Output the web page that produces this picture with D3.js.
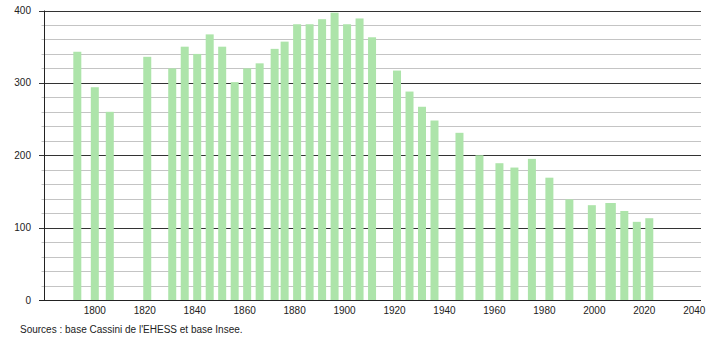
<!DOCTYPE html>
<html>
<head>
<meta charset="utf-8">
<script src="https://cdn.jsdelivr.net/npm/d3@7"></script>
<style>
  body { margin: 0; background: #fff; }
  text { font-family: "Liberation Sans", Arial, sans-serif; font-size: 10px; fill: #222; }
</style>
</head>
<body>
<div id="chart"></div>
<script>
// census years and population
const years = [1793, 1800, 1806, 1821, 1831, 1836, 1841, 1846, 1851, 1856, 1861, 1866, 1872, 1876,
  1881, 1886, 1891, 1896, 1901, 1906, 1911, 1921, 1926, 1931, 1936, 1946, 1954, 1962, 1968, 1975,
  1982, 1990, 1999, 2006, 2007, 2012, 2017, 2022];
const population = [343, 294, 260, 336, 320, 350, 340, 367, 350, 301, 320, 327, 347, 357,
  381, 381, 388, 397, 381, 389, 363, 317, 288, 267, 248, 231, 200, 189, 183, 195,
  169, 139, 131, 134, 134, 123, 108, 113];
const xTicks = [1800, 1820, 1840, 1860, 1880, 1900, 1920, 1940, 1960, 1980, 2000, 2020, 2040];
const yMajor = [0, 100, 200, 300, 400];
const yMinor = d3.range(20, 400, 20).filter(v => v % 100 !== 0);
const source = "Sources : base Cassini de l'EHESS et base Insee.";

const width = 710, height = 340;
const plotLeft = 44, plotRight = 701, plotTop = 10.5, plotBottom = 300;

const svg = d3.select("#chart").append("svg")
  .attr("width", width)
  .attr("height", height);

const x = d3.scaleLinear().domain([1800, 2020]).range([94.8, 644.3]);
const y = d3.scaleLinear().domain([0, 400]).range([plotBottom, plotTop]);

// minor grid
svg.append("g").selectAll("line").data(yMinor).join("line")
  .attr("x1", plotLeft - 2.5).attr("x2", plotRight)
  .attr("y1", d => Math.round(y(d)) + 0.5).attr("y2", d => Math.round(y(d)) + 0.5)
  .attr("stroke", "#c4c4c4").attr("stroke-width", 1);

// major grid
svg.append("g").selectAll("line").data(yMajor).join("line")
  .attr("x1", plotLeft - 5).attr("x2", plotRight)
  .attr("y1", d => Math.round(y(d)) + 0.5).attr("y2", d => Math.round(y(d)) + 0.5)
  .attr("stroke", "#333").attr("stroke-width", 1);

// bars
const barW = 8;
svg.append("g").selectAll("rect").data(years).join("rect")
  .attr("x", d => x(d) - barW / 2)
  .attr("width", barW)
  .attr("y", (d, i) => y(population[i]))
  .attr("height", (d, i) => plotBottom - y(population[i]))
  .attr("fill", "#ade4aa");

// axis lines
svg.append("line")
  .attr("x1", plotLeft + 0.5).attr("x2", plotLeft + 0.5)
  .attr("y1", plotTop).attr("y2", plotBottom + 0.5)
  .attr("stroke", "#222");
svg.append("line")
  .attr("x1", plotLeft - 5).attr("x2", plotRight)
  .attr("y1", Math.round(y(0)) + 0.5).attr("y2", Math.round(y(0)) + 0.5)
  .attr("stroke", "#222");

// y labels
svg.append("g").selectAll("text").data(yMajor).join("text")
  .attr("x", 31)
  .attr("y", d => y(d) + 3.5)
  .attr("text-anchor", "end")
  .text(d => d);

// x labels
svg.append("g").selectAll("text").data(xTicks).join("text")
  .attr("x", d => x(d))
  .attr("y", 314)
  .attr("text-anchor", "middle")
  .text(d => d);

svg.append("text")
  .attr("x", 20)
  .attr("y", 333)
  .text(source);
</script>
</body>
</html>
